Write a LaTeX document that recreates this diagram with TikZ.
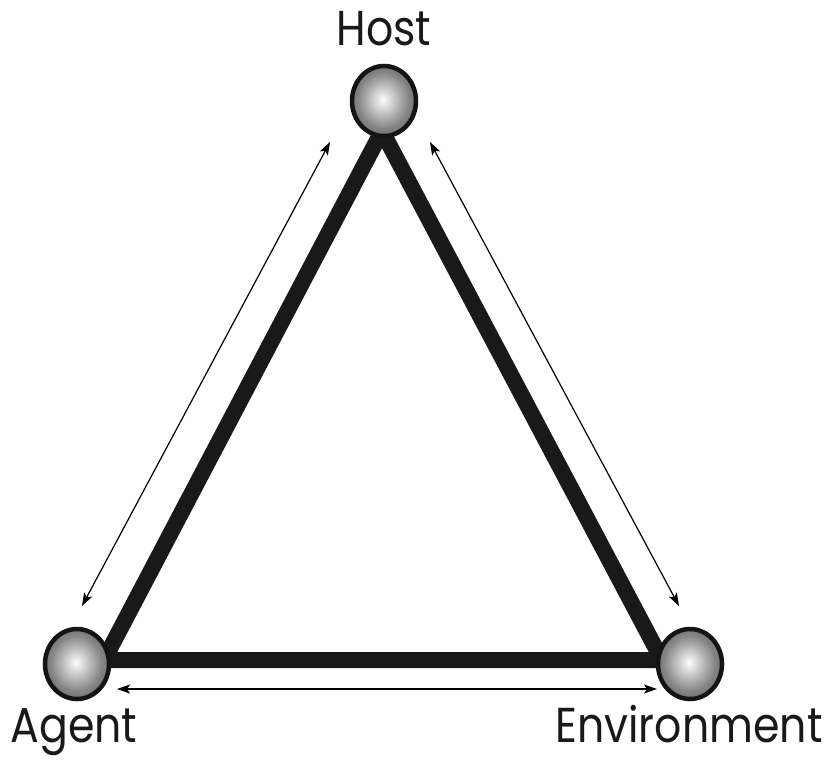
\documentclass[tikz,border=0pt]{standalone}
\usepackage{fontspec}
\newfontfamily\labfont[FakeStretch=0.87]{Poppins}
\usetikzlibrary{shapes.geometric,arrows.meta}
\pgfdeclareradialshading{myball}{\pgfpoint{-1bp}{1bp}}{%
  color(0bp)=(white); color(3bp)=(white!92!black); color(20bp)=(black!48); color(38bp)=(black!70); color(50bp)=(black!82)}
\tikzset{
  ball/.style={ellipse, draw=black!92, line width=4.5pt, shading=myball, minimum width=64pt, minimum height=70pt, inner sep=0pt},
  edge/.style={line width=16pt, line join=round, draw=black!90},
  rel/.style={line width=1.2pt, {Stealth[length=13pt,width=9pt,inset=3pt]}-{Stealth[length=13pt,width=9pt,inset=3pt]}},
  lab/.style={font=\labfont\fontsize{49}{54}\selectfont, anchor=base, inner sep=0pt, text=black!90}
}
\begin{document}
\begin{tikzpicture}[x=1pt,y=-1pt]
\path[use as bounding box] (0,0) rectangle (832,761);
% triangle vertices
\coordinate (H) at (382,131);
\coordinate (A) at (104,660);
\coordinate (E) at (662,660);
\draw[edge] (H) -- (A) -- (E) -- cycle;
% balls
\node[ball] (host) at (384,101) {};
\node[ball] (agent) at (77,664) {};
\node[ball] (env) at (690,664) {};
% relation arrows
\coordinate (ha) at (330,142);
\coordinate (ah) at (82,606);
\coordinate (he) at (430,142);
\coordinate (eh) at (679,606);
\coordinate (ae) at (117,689);
\coordinate (ea) at (657,689);
\draw[rel] (ha) -- (ah);
\draw[rel] (he) -- (eh);
\draw[rel] (ae) -- (ea);
% labels
\node[lab] (hostlab) at (384,45) {Host};
\node[lab] (agentlab) at (74,742) {Agent};
\node[lab] (envlab) at (689,742) {Environment};
\end{tikzpicture}
\end{document}
